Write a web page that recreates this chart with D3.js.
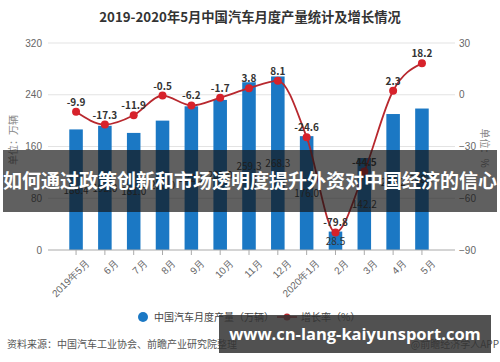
<!DOCTYPE html>
<html>
<head>
<meta charset="utf-8">
<script src="https://cdn.jsdelivr.net/npm/d3@7"></script>
<style>
  body { margin: 0; background: #fff; }
  svg { display: block; font-family: "Noto Sans CJK SC", "Noto Sans", sans-serif; }
</style>
</head>
<body>
<div id="chart"></div>
<script>
// data
const months = ["2019年5月", "6月", "7月", "8月", "9月", "10月", "11月", "12月", "2020年1月", "2月", "3月", "4月", "5月"];
const production = [186.4, 192.0, 181.0, 200.0, 222.1, 232.0, 259.3, 268.3, 176.0, 28.5, 142.2, 210.2, 218.7];
const growth = [-9.9, -17.3, -11.9, -0.5, -6.2, -1.7, 3.8, 8.1, -24.6, -79.8, -44.5, 2.3, 18.2];
const leftTicks = [0, 80, 160, 240, 320];
const rightTicks = [-90, -60, -30, 0, 30];

const width = 500, height = 362;
const plotTop = 43, plotBottom = 250, plotLeft = 48, plotRight = 455;

const svg = d3.select("#chart").append("svg")
  .attr("width", width)
  .attr("height", height);

// title
svg.append("text")
  .attr("x", 250).attr("y", 22)
  .attr("text-anchor", "middle")
  .style("font-size", "13.3px").style("font-weight", "bold")
  .style("fill", "#333")
  .text("2019-2020年5月中国汽车月度产量统计及增长情况");

const x = d3.scaleBand().domain(months).range([54, 444]).padding(0.53);
const yL = d3.scaleLinear().domain([0, 320]).range([plotBottom, plotTop]);
const yR = d3.scaleLinear().domain([-90, 30]).range([plotBottom, plotTop]);

// grid lines
svg.append("g").selectAll("line")
  .data(leftTicks.slice(1))
  .enter().append("line")
  .attr("x1", plotLeft).attr("x2", plotRight)
  .attr("y1", d => yL(d)).attr("y2", d => yL(d))
  .style("stroke", "#e3e3e3");

// left axis
const gL = svg.append("g")
  .attr("transform", "translate(" + plotLeft + ",0)")
  .call(d3.axisLeft(yL).tickValues(leftTicks).tickSize(0).tickPadding(6));
gL.select(".domain").remove();
gL.selectAll("text").style("font-size", "10px").style("fill", "#666").style("font-family", "inherit");

// right axis
const gR = svg.append("g")
  .attr("transform", "translate(" + plotRight + ",0)")
  .call(d3.axisRight(yR).tickValues(rightTicks).tickSize(0).tickPadding(4));
gR.select(".domain").remove();
gR.selectAll("text").style("font-size", "10px").style("fill", "#666").style("font-family", "inherit");

// axis titles
svg.append("text")
  .attr("transform", "translate(17,140) rotate(-90)")
  .attr("text-anchor", "middle")
  .style("font-size", "10px").style("fill", "#888")
  .text("单位：万辆");
svg.append("text")
  .attr("transform", "translate(481,148) rotate(90)")
  .attr("text-anchor", "middle")
  .style("font-size", "10px").style("fill", "#888")
  .text("单位：%");

// bars
svg.append("g").selectAll("rect")
  .data(production)
  .enter().append("rect")
  .attr("x", (d, i) => x(months[i]))
  .attr("width", x.bandwidth())
  .attr("y", d => yL(d))
  .attr("height", d => plotBottom - yL(d))
  .style("fill", "#1b78c4");

// bottom axis
const gX = svg.append("g")
  .attr("transform", "translate(0," + plotBottom + ")")
  .call(d3.axisBottom(x).tickSize(5).tickSizeOuter(0));
gX.select(".domain").attr("d", "M" + plotLeft + ",0H" + plotRight).style("stroke", "#aaa");
gX.selectAll(".tick line").style("stroke", "#aaa");
gX.selectAll("text")
  .style("font-size", "10px").style("fill", "#666").style("font-family", "inherit")
  .attr("text-anchor", "end")
  .attr("transform", "translate(4,4) rotate(-45)")
  .attr("dy", "0.6em");

// bar value labels
svg.append("g").selectAll("text")
  .data(production)
  .enter().append("text")
  .attr("x", (d, i) => x(months[i]) + x.bandwidth() / 2)
  .attr("y", d => (yL(d) + plotBottom) / 2 + 4)
  .attr("text-anchor", "middle")
  .style("font-size", "10px").style("fill", "#333")
  .text(d => d.toFixed(1));

// growth line
const cx = i => x(months[i]) + x.bandwidth() / 2;
const line = d3.line()
  .x((d, i) => cx(i))
  .y(d => yR(d))
  .curve(d3.curveMonotoneX);
svg.append("path")
  .datum(growth)
  .attr("d", line)
  .style("fill", "none")
  .style("stroke", "#b8282e")
  .style("stroke-width", 1.8);

svg.append("g").selectAll("circle")
  .data(growth)
  .enter().append("circle")
  .attr("cx", (d, i) => cx(i))
  .attr("cy", d => yR(d))
  .attr("r", 4)
  .style("fill", "#d7222b");

svg.append("g").selectAll("text")
  .data(growth)
  .enter().append("text")
  .attr("x", (d, i) => cx(i))
  .attr("y", d => yR(d) - 6)
  .attr("text-anchor", "middle")
  .style("font-size", "10px").style("font-weight", "bold").style("fill", "#333")
  .text(d => d.toFixed(1));

// legend
const lg = svg.append("g");
lg.append("circle").attr("cx", 143).attr("cy", 317).attr("r", 5).style("fill", "#1b78c4");
lg.append("text").attr("x", 154).attr("y", 321)
  .style("font-size", "10px").style("fill", "#444")
  .text("中国汽车月度产量（万辆）");
lg.append("line").attr("x1", 277).attr("x2", 297).attr("y1", 317).attr("y2", 317)
  .style("stroke", "#b8282e").style("stroke-width", 1.8);
lg.append("circle").attr("cx", 287).attr("cy", 317).attr("r", 3.5).style("fill", "#b8282e");
lg.append("text").attr("x", 301).attr("y", 321)
  .style("font-size", "10px").style("fill", "#444")
  .text("增长率（%）");

// source line
svg.append("text").attr("x", 7).attr("y", 348)
  .style("font-size", "10px").style("fill", "#555")
  .text("资料来源：中国汽车工业协会、前瞻产业研究院整理");
svg.append("text").attr("x", 499).attr("y", 348)
  .attr("text-anchor", "end")
  .style("font-size", "10px").style("fill", "#555")
  .text("@前瞻经济学人APP");

// overlay banner
svg.append("rect")
  .attr("x", 3).attr("y", 150).attr("width", 494).attr("height", 62)
  .style("fill", "rgba(20,20,20,0.68)");
svg.append("text")
  .attr("x", 250).attr("y", 188)
  .attr("text-anchor", "middle")
  .style("font-size", "19px").style("font-weight", "bold").style("fill", "#fff")
  .text("如何通过政策创新和市场透明度提升外资对中国经济的信心");

// bottom watermark box
svg.append("rect")
  .attr("x", 219).attr("y", 315).attr("width", 272).attr("height", 38)
  .style("fill", "rgba(50,50,50,0.85)");
svg.append("text")
  .attr("x", 355).attr("y", 340)
  .attr("text-anchor", "middle")
  .style("font-size", "16.5px").style("font-weight", "bold").style("fill", "#fff")
  .style("font-family", "'Open Sans', 'DejaVu Sans', sans-serif")
  .text("www.cn-lang-kaiyunsport.com");
</script>
</body>
</html>
